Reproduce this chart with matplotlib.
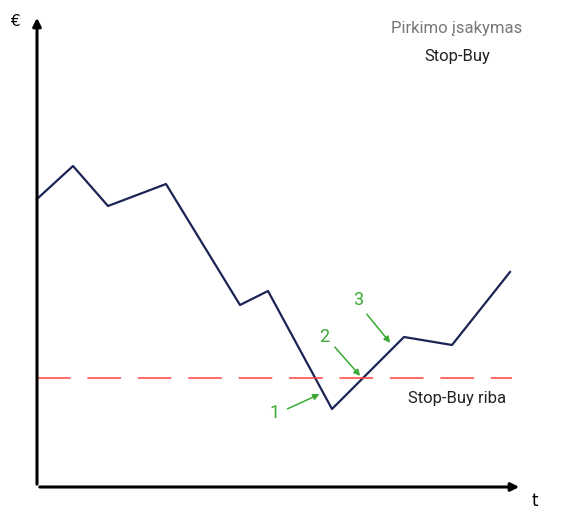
import matplotlib
matplotlib.use("Agg")
import matplotlib.pyplot as plt

# price path (time, price) in chart units
t_vals = [0, 36, 71, 129, 203, 231, 295, 367, 415, 473]
price = [288, 321, 281, 303, 182, 196, 78, 150, 142, 215]
stop_level = 109
labels = ["1", "2", "3"]

fig = plt.figure(figsize=(5.62, 5.21), dpi=100)
ax = fig.add_axes([0, 0, 1, 1])
ax.set_xlim(-37, 525)
ax.set_ylim(-34, 487)
ax.axis("off")

ax.plot(t_vals, price, color="#1b2455", lw=1.6)
ax.plot([0, 475], [stop_level, stop_level], color="#ff4040", lw=1.1, dashes=(22, 11))

ax.annotate("", xy=(0, 472), xytext=(0, 0),
            arrowprops=dict(arrowstyle="-|>", color="black", lw=2.2, mutation_scale=12))
ax.annotate("", xy=(485, 0), xytext=(0, 0),
            arrowprops=dict(arrowstyle="-|>", color="black", lw=2.2, mutation_scale=12))
ax.text(-22, 465, "€", fontsize=11, ha="center", va="center")
ax.text(498, -14, "t", fontsize=12, ha="center", va="center")

green = "#3aaa35"
arr = [((248, 77), (285, 94), (238, 74)),
       ((296, 142), (325, 109), (287, 150)),
       ((328, 175), (355, 142), (321, 187))]
for lab, (start, end, tpos) in zip(labels, arr):
    ax.annotate("", xy=end, xytext=start,
                arrowprops=dict(arrowstyle="-|>", color=green, lw=1.1, mutation_scale=9))
    ax.text(tpos[0], tpos[1], lab, color=green, fontsize=13, ha="center", va="center",
            family="Roboto")

ax.text(420, 459, "Pirkimo įsakymas", color="#777777", fontsize=12, ha="center", va="center",
        family="Roboto")
ax.text(420, 431, "Stop-Buy", color="#222222", fontsize=12, ha="center", va="center",
        family="Roboto")
ax.text(420, 89, "Stop-Buy riba", color="#222222", fontsize=12, ha="center", va="center",
        family="Roboto")

fig.savefig("out.png", dpi=100)
